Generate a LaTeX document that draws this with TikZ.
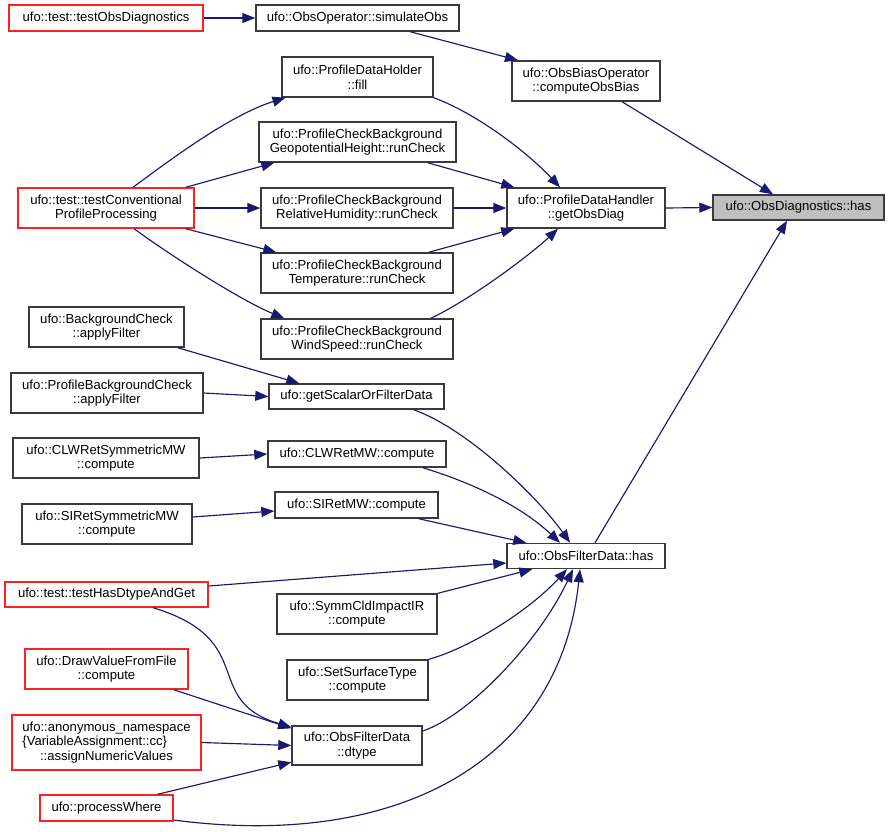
\documentclass[tikz,border=0pt]{standalone}
\usepackage{fontspec}
\setmainfont{Liberation Sans}
\usepackage{calc}
\usetikzlibrary{arrows.meta}
\definecolor{edgeblue}{HTML}{191970}
\definecolor{boxgray}{HTML}{3A3A3A}
\definecolor{hlgray}{HTML}{BFBFBF}
\definecolor{redc}{HTML}{FF2020}
\tikzset{
  box/.style={draw=boxgray, line width=1.4pt, inner sep=0pt, align=center, fill=white,
    font=\fontsize{13.1}{14.5}\selectfont},
  redbox/.style={box, draw=redc},
  hlbox/.style={box, fill=hlgray},
  e/.style={draw=edgeblue, line width=1.15pt, -{Triangle[length=13pt,width=10pt]}}
}
\begin{document}
\begin{tikzpicture}[x=1pt,y=-1pt]
\useasboundingbox (0,0) rectangle (889,831);
% nodes
\node[redbox, minimum width=194pt, minimum height=26pt] (tod) at (106,18) {ufo::test::testObsDiagnostics};
\node[box, minimum width=203pt, minimum height=26pt] (sim) at (357.5,18) {ufo::ObsOperator::simulateObs};
\node[box, minimum width=151pt, minimum height=40pt] (fill) at (357.5,77) {ufo::ProfileDataHolder\\::fill};
\node[box, minimum width=197pt, minimum height=40pt] (geo) at (357.5,142) {ufo::ProfileCheckBackground\\GeopotentialHeight::runCheck};
\node[box, minimum width=148pt, minimum height=40pt] (bias) at (586,81) {ufo::ObsBiasOperator\\::computeObsBias};
\node[box, minimum width=158pt, minimum height=40pt] (getod) at (586,208) {ufo::ProfileDataHandler\\::getObsDiag};
\node[hlbox, minimum width=171pt, minimum height=25pt] (odhas) at (798.5,207.5) {ufo::ObsDiagnostics::has};
\node[redbox, minimum width=176pt, minimum height=40pt] (tcpp) at (106,208) {ufo::test::testConventional\\ProfileProcessing};
\node[box, minimum width=192pt, minimum height=40pt] (rh) at (357,208) {ufo::ProfileCheckBackground\\RelativeHumidity::runCheck};
\node[box, minimum width=192pt, minimum height=40pt] (temp) at (357,273) {ufo::ProfileCheckBackground\\Temperature::runCheck};
\node[box, minimum width=192pt, minimum height=40pt] (wind) at (357,339) {ufo::ProfileCheckBackground\\WindSpeed::runCheck};
\node[box, minimum width=155pt, minimum height=40pt] (bgc) at (106.5,327) {ufo::BackgroundCheck\\::applyFilter};
\node[box, minimum width=192pt, minimum height=40pt] (pbgc) at (107,393) {ufo::ProfileBackgroundCheck\\::applyFilter};
\node[box, minimum width=175pt, minimum height=25pt] (gsfd) at (356.5,396.5) {ufo::getScalarOrFilterData};
\node[box, minimum width=186pt, minimum height=40pt] (clwsym) at (106,458) {ufo::CLWRetSymmetricMW\\::compute};
\node[box, minimum width=178pt, minimum height=26pt] (clw) at (357,454) {ufo::CLWRetMW::compute};
\node[box, minimum width=170pt, minimum height=40pt] (sisym) at (107,524) {ufo::SIRetSymmetricMW\\::compute};
\node[box, minimum width=163pt, minimum height=26pt] (si) at (356.5,505) {ufo::SIRetMW::compute};
\node[box, minimum width=158pt, minimum height=25pt] (fdhas) at (586,556) {ufo::ObsFilterData::has};
\node[redbox, minimum width=203pt, minimum height=25pt] (thdg) at (106.5,594.5) {ufo::test::testHasDtypeAndGet};
\node[box, minimum width=160pt, minimum height=40pt] (scir) at (357,614) {ufo::SymmCldImpactIR\\::compute};
\node[redbox, minimum width=163pt, minimum height=40pt] (dvff) at (106.5,669) {ufo::DrawValueFromFile\\::compute};
\node[box, minimum width=141pt, minimum height=40pt] (sst) at (357.5,680) {ufo::SetSurfaceType\\::compute};
\node[redbox, minimum width=189pt, minimum height=55pt] (anon) at (106.5,742.5) {ufo::anonymous\_namespace\\\makebox[\widthof{ufo::anonymous\_namespace}][l]{\{VariableAssignment::cc\}}\\::assignNumericValues};
\node[box, minimum width=130pt, minimum height=39pt] (dtype) at (357,745.5) {ufo::ObsFilterData\\::dtype};
\node[redbox, minimum width=133pt, minimum height=26pt] (pw) at (106.5,808) {ufo::processWhere};
% edges
\draw[e] (tod.east) -- (sim.west);
\draw[e] ([xshift=52.5pt]sim.south) -- ([xshift=-68pt]bias.north);
\draw[e] ([xshift=36pt]bias.south) -- ([xshift=-25.5pt]odhas.north);
\draw[e] (getod.east) -- (odhas.west);
\draw[e] ([xshift=9pt]fdhas.north) -- ([xshift=-11.5pt]odhas.south);
\draw[e] ([xshift=27pt]tcpp.north) .. controls (170,160) and (230,115) .. ([xshift=-72pt]fill.south);
\draw[e] ([xshift=-9pt]tcpp.north east) -- ([xshift=16pt]geo.south west);
\draw[e] (tcpp.east) -- (rh.west);
\draw[e] ([xshift=-9pt]tcpp.south east) -- ([xshift=16pt]temp.north west);
\draw[e] ([xshift=28pt]tcpp.south) .. controls (170,255) and (240,300) .. ([xshift=24pt]wind.north west);
\draw[e] (fill.south east) .. controls (480,115) and (530,155) .. ([xshift=-26pt]getod.north);
\draw[e] ([xshift=-29pt]geo.south east) -- ([xshift=8pt]getod.north west);
\draw[e] (rh.east) -- (getod.west);
\draw[e] ([xshift=-25pt]temp.north east) -- ([xshift=8pt]getod.south west);
\draw[e] ([xshift=-23pt]wind.north east) .. controls (470,300) and (530,255) .. ([xshift=-28pt]getod.south);
\draw[e] ([xshift=-7pt]bgc.south east) -- ([xshift=31pt]gsfd.north west);
\draw[e] (pbgc.east) -- (gsfd.west);
\draw[e] ([xshift=-31pt]gsfd.south east) .. controls (470,430) and (540,500) .. ([xshift=-16pt]fdhas.north);
\draw[e] (clwsym.east) -- (clw.west);
\draw[e] ([xshift=-24pt]clw.south east) .. controls (470,482) and (520,505) .. ([xshift=-26pt]fdhas.north);
\draw[e] ([yshift=7pt]sisym.east) -- ([yshift=-6pt]si.west);
\draw[e] ([xshift=-20pt]si.south east) -- ([xshift=20pt]fdhas.north west);
\draw[e] ([yshift=8.5pt]thdg.east) -- ([yshift=-7pt]fdhas.west);
\draw[e] (scir.north east) -- ([xshift=26pt]fdhas.south west);
\draw[e] (sst.north east) .. controls (470,648) and (530,610) .. ([xshift=-19pt]fdhas.south);
\draw[e] ([yshift=14.5pt]dtype.east) .. controls (470,715) and (540,640) .. ([xshift=-13pt]fdhas.south);
\draw[e] ([yshift=-12pt]pw.east) .. controls (400,850) and (560,760) .. ([xshift=-6pt]fdhas.south);
\draw[e] ([xshift=46.5pt]thdg.south) .. controls (260,640) and (200,700) .. ([yshift=-2pt]dtype.north west);
\draw[e] ([xshift=-15pt]dvff.south east) -- ([yshift=-3pt]dtype.north west);
\draw[e] (anon.east) -- (dtype.west);
\draw[e] ([xshift=51pt]pw.north) -- ([yshift=3.5pt]dtype.south west);
\end{tikzpicture}
\end{document}
